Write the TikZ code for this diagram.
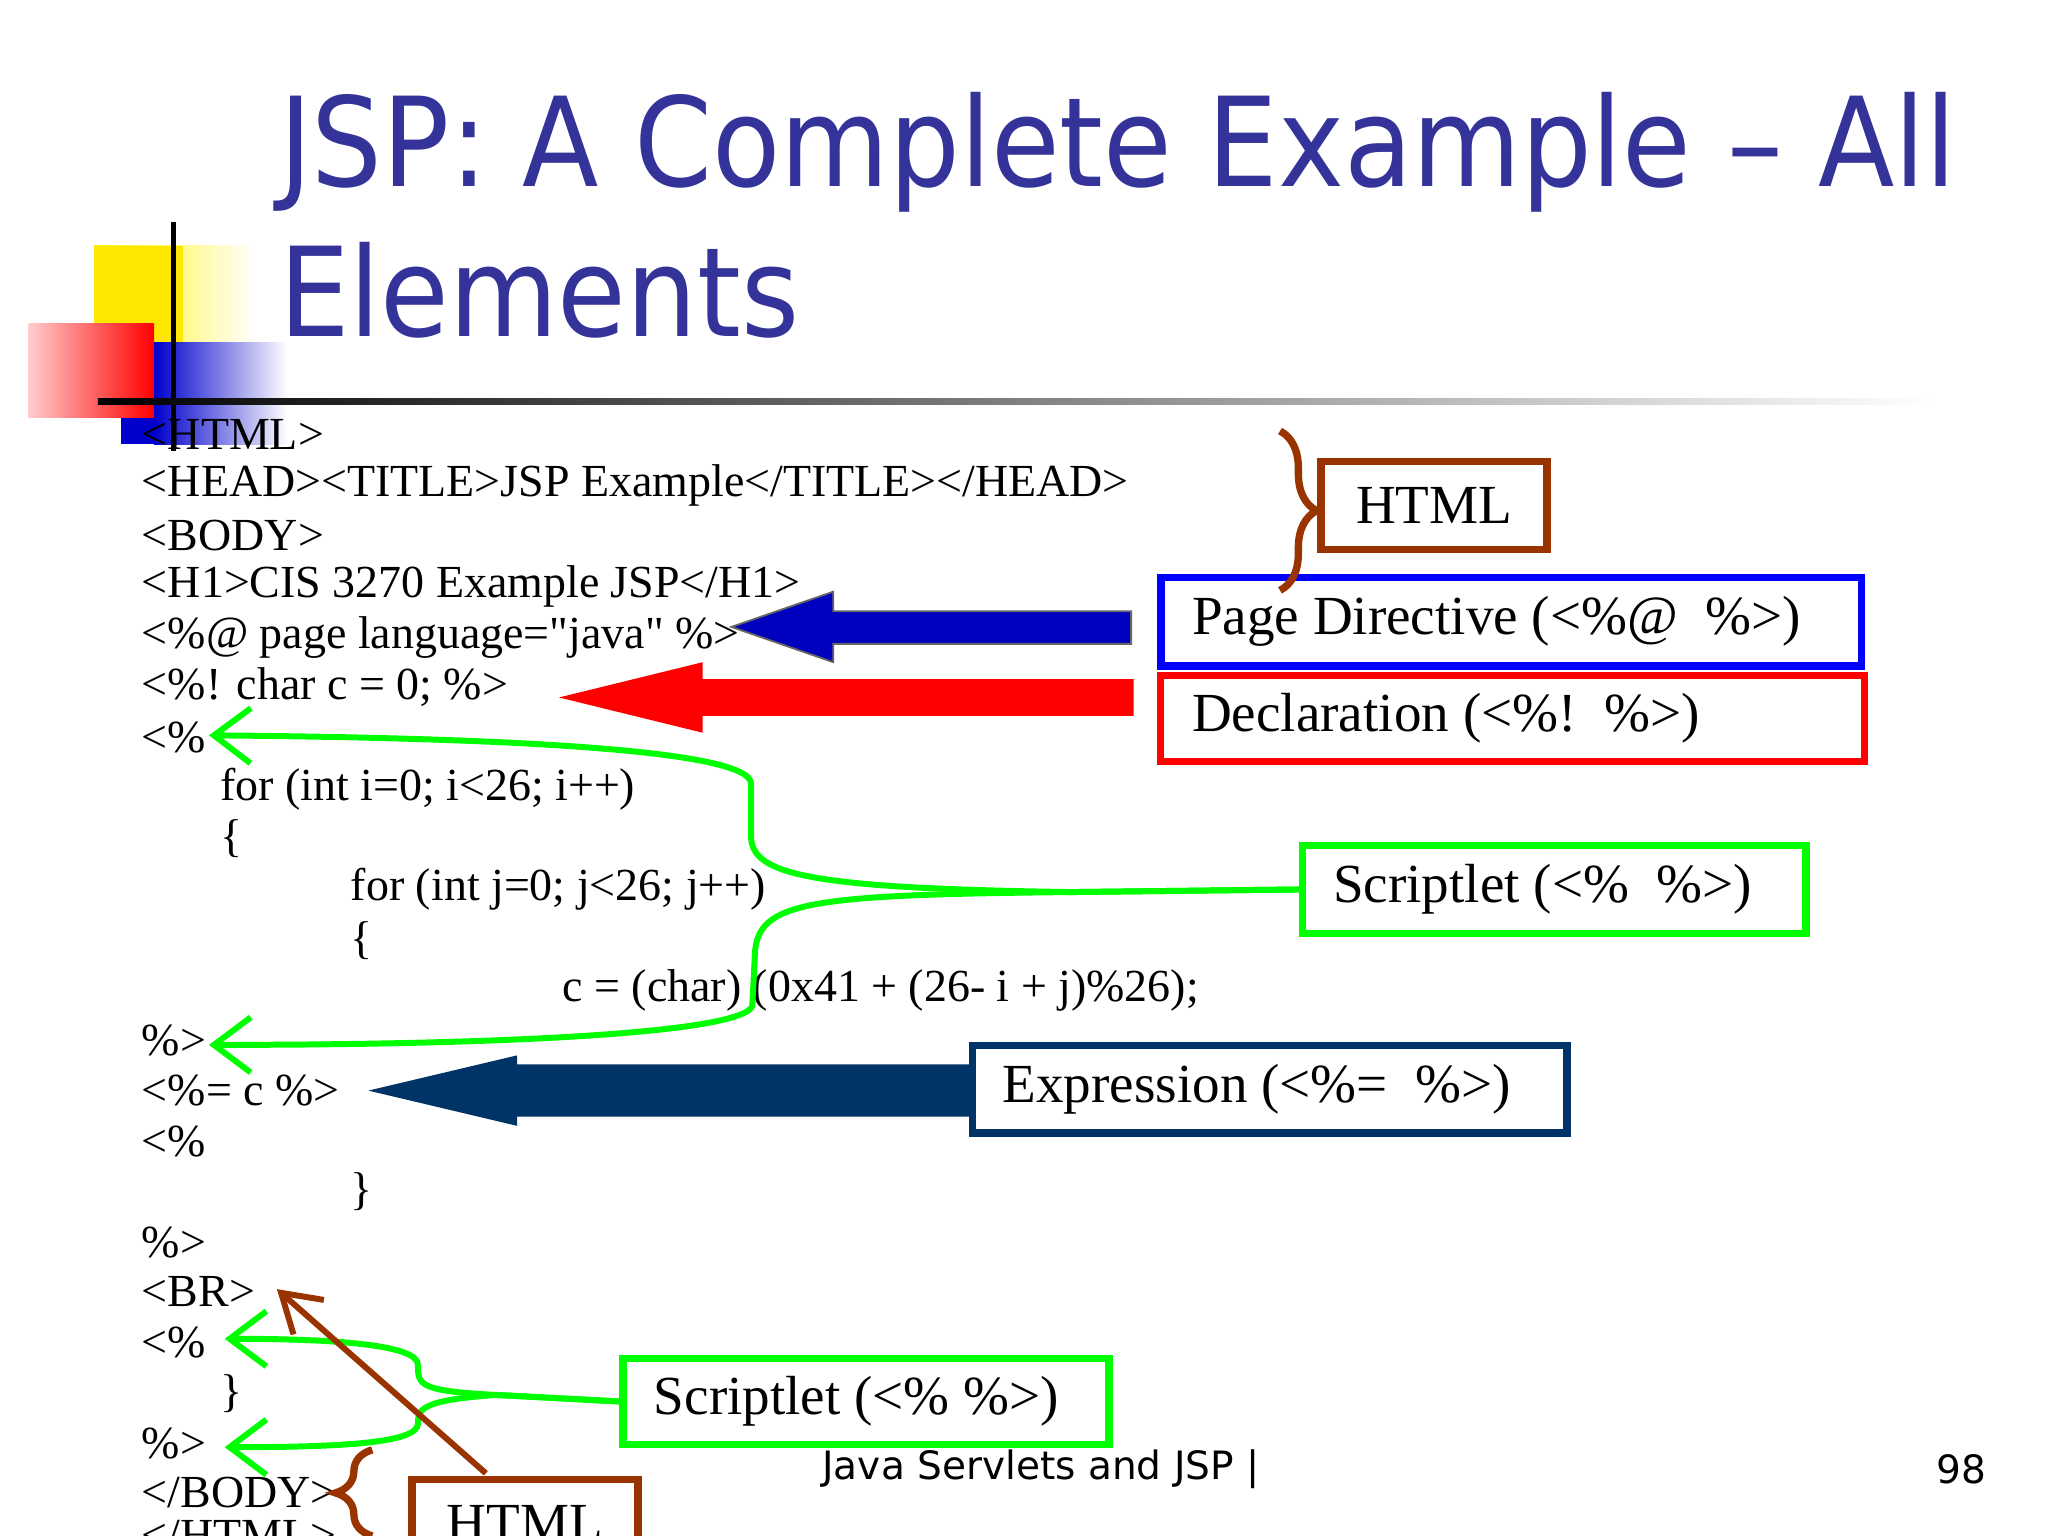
\documentclass[tikz,border=0pt]{standalone}
\usepackage{fontspec}
\setmainfont{Liberation Serif}
\newfontfamily\codef{Liberation Serif}
\newfontfamily\titlef{DejaVu Sans Condensed}
\newfontfamily\footf{DejaVu Sans}
\usetikzlibrary{arrows.meta,decorations.pathreplacing}
\definecolor{ttl}{RGB}{51,51,153}
\definecolor{brn}{RGB}{153,51,0}
\definecolor{nvy}{RGB}{0,51,102}
\definecolor{grn}{RGB}{0,255,0}
\begin{document}
\begin{tikzpicture}[x=0.01cm,y=-0.01cm,
  code/.style={anchor=west,inner sep=0,font=\codef\fontsize{10}{11}\selectfont},
  lbl/.style={line width=1.6pt,fill=white,inner sep=0,font=\fontsize{12}{14}\selectfont,text=black},
  ltxt/.style={anchor=west,inner sep=0,font=\fontsize{12}{14}\selectfont},
  garr/.style={grn,line width=1.3pt,-{Straight Barb[length=8pt,width=12pt,line width=1.3pt]}}]
\useasboundingbox (0,0) rectangle (1568,1176);
% logo
\shade[left color=yellow!90!orange,right color=white] (72,188) rectangle (195,300);
\fill[yellow!90!orange] (72,188) rectangle (140,300);
\shade[left color=red!20,right color=red] (22,248) rectangle (118,320);
\shade[left color=blue!80!black,right color=white] (118,262) rectangle (220,340);
\fill[blue!80!black] (93,320) rectangle (118,340);
\draw[line width=1.2pt] (133,170) -- (133,345);
\shade[left color=black,right color=white] (75,305) rectangle (1480,310);
% title
\node[anchor=base west,inner sep=0,text=ttl,font=\titlef\fontsize{27}{32}\selectfont] (t1) at (213,143) {JSP: A Complete Example – All};
\node[anchor=base west,inner sep=0,text=ttl,font=\titlef\fontsize{27}{32}\selectfont] (t2) at (213,258) {Elements};
% code
\foreach \x/\y/\t [count=\i] in {
108/333/{<HTML>},
108/372/{<HEAD><TITLE>JSP Example</TITLE></HEAD>},
108/410/{<BODY>},
108/449/{<H1>CIS 3270 Example JSP</H1>},
108/488/{<\%@ page language="java" \%>},
108/526/{<\%! char c = 0; \%>},
108/565/{<\%},
168/604/{for (int i=0; i<26; i++)},
168/642/{\{},
268/681/{for (int j=0; j<26; j++)},
268/720/{\{},
430/758/{c = (char) (0x41 + (26- i + j)\%26);},
108/797/{\%>},
108/835/{<\%= c \%>},
108/874/{<\%},
268/912/{\}},
108/951/{\%>},
108/989/{<BR>},
108/1028/{<\%},
168/1067/{\}},
108/1105/{\%>},
108/1143/{</BODY>},
108/1176/{</HTML>}}
  \node[code] (c\i) at (\x,\y) {\t};
% boxes
\node[lbl,draw=brn,minimum width=1.73cm,minimum height=0.67cm] (h1) at (1098,387) {HTML};
\node[lbl,draw=blue,minimum width=5.36cm,minimum height=0.68cm] (pd) at (1157,476) {};
\node[ltxt] at (912,476) {Page Directive (<\%@\ \ \%>)};
\node[lbl,draw=red,minimum width=5.39cm,minimum height=0.66cm] (dc) at (1158,550) {};
\node[ltxt] at (912,550) {Declaration (<\%!\ \ \%>)};
\node[lbl,draw=grn,minimum width=3.85cm,minimum height=0.67cm] (s1) at (1190,681) {};
\node[ltxt] at (1020,681) {Scriptlet (<\%\ \ \%>)};
\node[lbl,draw=nvy,minimum width=4.55cm,minimum height=0.67cm] (ex) at (972,834) {};
\node[ltxt] at (767,834) {Expression (<\%=\ \ \%>)};
\node[lbl,draw=grn,minimum width=3.72cm,minimum height=0.66cm] (s2) at (663,1073) {};
\node[ltxt] at (500,1073) {Scriptlet (<\% \%>)};
\node[lbl,draw=brn,minimum width=1.73cm,minimum height=0.67cm,anchor=north] (h2) at (402,1130) {\raisebox{-4pt}{HTML}};
% fat arrows
\fill[blue!75!black,draw=black!60] (866,468) -- (638,468) -- (638,453) -- (560,480) -- (638,507) -- (638,493) -- (866,493) -- cycle;
\fill[red] (868,520) -- (538,520) -- (538,507) -- (428,534) -- (538,561) -- (538,548) -- (868,548) -- cycle;
\fill[nvy] (745,815) -- (396,815) -- (396,808) -- (282,835) -- (396,862) -- (396,855) -- (745,855) -- cycle;
% green curves
\draw[garr] (s1.west) -- (820,683) .. controls (620,680) and (575,670) .. (575,640) -- (575,600) .. controls (575,575) and (400,565) .. (160,563);
\draw[garr] (s1.west) -- (820,683) .. controls (620,685) and (580,690) .. (578,730) -- (576,770) .. controls (570,790) and (400,800) .. (160,800);
\draw[garr] (s2.west) -- (380,1068) .. controls (320,1065) and (320,1060) .. (320,1045) .. controls (320,1030) and (260,1025) .. (172,1025);
\draw[garr] (s2.west) -- (380,1068) .. controls (320,1072) and (320,1080) .. (320,1090) .. controls (320,1105) and (260,1108) .. (172,1108);
% braces and brown line
\draw[brn,line width=1.6pt,decorate,decoration={brace,amplitude=8pt}] (980,330) -- (980,452);
\draw[brn,line width=1.6pt,decorate,decoration={brace,amplitude=8pt}] (285,1176) -- (285,1110);
\coordinate (bt) at (212,987);
\draw[brn,line width=1.3pt,-{Straight Barb[length=8pt,width=10pt]}] (372,1128) -- (bt);
% footer
\node[inner sep=0,font=\footf\fontsize{8.5}{10}\selectfont] (ft) at (797,1125) {Java Servlets and JSP |};
\node[inner sep=0,font=\footf\fontsize{8.5}{10}\selectfont] (pg) at (1502,1125) {98};
\end{tikzpicture}
\end{document}
